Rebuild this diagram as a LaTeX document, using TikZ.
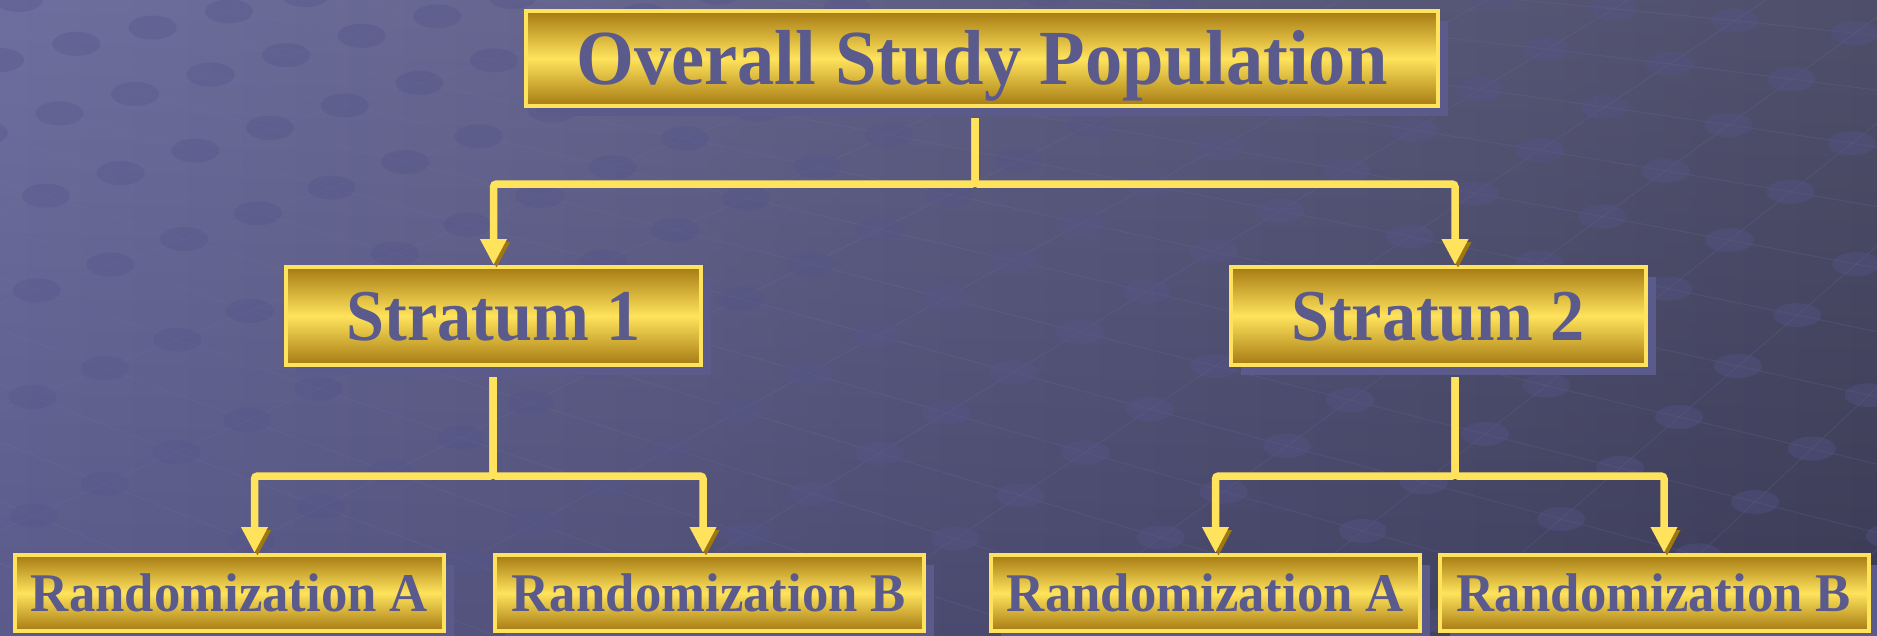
\documentclass[tikz,border=0pt]{standalone}
\usepackage{fontspec}
\setmainfont{Liberation Serif}
\usetikzlibrary{arrows.meta,shadows,calc}
\definecolor{bgl}{HTML}{636397}
\definecolor{bgr}{HTML}{40405E}
\definecolor{boxyel}{HTML}{FFE35C}
\definecolor{boxgold}{HTML}{A67A12}
\definecolor{txtc}{HTML}{5A5A8C}
\definecolor{bshadow}{HTML}{5B5B8B}
\definecolor{lshadow}{HTML}{A07810}
\definecolor{dotc}{HTML}{55558A}
\definecolor{latline}{HTML}{7575AA}
\newcommand{\sx}[2]{\scalebox{#1}[1]{#2}}
\begin{document}
\begin{tikzpicture}[x=1pt,y=-1pt,
  gbox/.style={draw=boxyel, line width=4pt, top color=boxgold, bottom color=boxgold,
    middle color=boxyel, text=txtc, inner sep=0pt, text depth=0pt,
    drop shadow={shadow xshift=10pt, shadow yshift=-10pt, fill=bshadow, opacity=1}},
  topbox/.style={gbox, minimum width=912pt, minimum height=95pt, text height=52pt,
    font=\bfseries\fontsize{78pt}{80pt}\selectfont},
  strbox/.style={gbox, minimum width=415pt, minimum height=98pt, text height=48pt,
    font=\bfseries\fontsize{73pt}{75pt}\selectfont},
  randbox/.style={gbox, minimum width=429pt, minimum height=76pt, text height=36pt,
    font=\bfseries\fontsize{54.5pt}{56pt}\selectfont},
  conn/.style={draw=boxyel, line width=7.5pt, rounded corners=3pt,
    -{Triangle[width=25pt,length=26pt]},
    preaction={draw=lshadow, transform canvas={shift={(3pt,-3pt)}}}},
  dot/.style={fill=dotc, opacity=0.38},
  latl/.style={draw=latline, line width=1pt, opacity=0.18}
]
\useasboundingbox (0,0) rectangle (1877,635);
% background
\shade[left color=bgl, right color=bgr] (0,0) rectangle (1877,635);
\shade[top color=white, bottom color=black, opacity=0.08] (0,0) rectangle (1877,635);
\begin{scope}
  \clip (0,0) rectangle (1877,635);
  \foreach \i in {-5,...,15}{
    \foreach \j in {-10,...,10}{
      \pgfmathsetmacro{\tha}{12+2.4*\i}
      \pgfmathsetmacro{\thb}{12+2.4*(\i+1)}
      \pgfmathsetmacro{\px}{\i*135+\j*78*cos(\tha)}
      \pgfmathsetmacro{\py}{\i*34-\j*78*sin(\tha)+60}
      \pgfmathsetmacro{\qx}{(\i+1)*135+\j*78*cos(\thb)}
      \pgfmathsetmacro{\qy}{(\i+1)*34-\j*78*sin(\thb)+60}
      \pgfmathsetmacro{\rx}{\i*135+(\j+1)*78*cos(\tha)}
      \pgfmathsetmacro{\ry}{\i*34-(\j+1)*78*sin(\tha)+60}
      \draw[latl] (\px,\py) -- (\qx,\qy);
      \draw[latl] (\px,\py) -- (\rx,\ry);
      \fill[dot] (\px,\py) ellipse [x radius=24, y radius=12];
    }
  }
\end{scope}
% nodes
\node[topbox] (top) at (982,58.5) {\sx{0.955}{Overall Study Population}};
\node[strbox] (s1) at (493.5,316) {\sx{0.935}{Stratum 1}};
\node[strbox] (s2) at (1438,316) {\sx{0.935}{Stratum 2}};
\node[randbox] (a1) at (229.5,593) {\sx{0.968}{Randomization A}};
\node[randbox] (b1) at (709,593) {\sx{0.968}{Randomization B}};
\node[randbox] (a2) at (1205.5,593) {\sx{0.968}{Randomization A}};
\node[randbox] (b2) at (1654,593) {\sx{0.968}{Randomization B}};
% junctions
\coordinate (j0) at (975,184);
\coordinate (j1) at (493,476);
\coordinate (j2) at (1455,476);
\coordinate (e2) at (s2.north -| j2);
\coordinate (ea1) at ([xshift=25pt]a1.north);
\coordinate (eb1) at ([xshift=-6pt]b1.north);
\coordinate (ea2) at ([xshift=10pt]a2.north);
\coordinate (eb2) at ([xshift=10pt]b2.north);
% connectors
\draw[conn] ($(top.south -| j0)+(0,10)$) -- (j0) -| (s1.north);
\draw[conn] ($(top.south -| j0)+(0,10)$) -- (j0) -| (e2);
\draw[conn] ($(s1.south -| j1)+(0,10)$) -- (j1) -| (ea1);
\draw[conn] ($(s1.south -| j1)+(0,10)$) -- (j1) -| (eb1);
\draw[conn] ($(s2.south -| j2)+(0,10)$) -- (j2) -| (ea2);
\draw[conn] ($(s2.south -| j2)+(0,10)$) -- (j2) -| (eb2);
\end{tikzpicture}
\end{document}
